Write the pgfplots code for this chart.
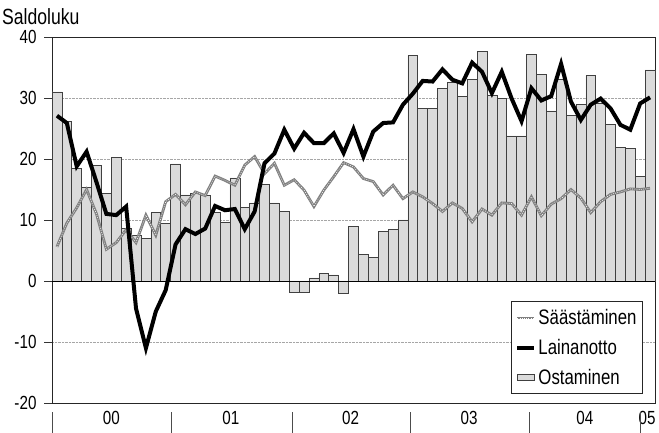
\documentclass[border=0pt]{standalone}
\usepackage{pgfplots}
\pgfplotsset{compat=1.18}
\usepackage{pgfplotstable}
\usepackage{fontspec}
\setmainfont{Liberation Sans}[FakeStretch=0.8]

% x = month index from Jan 2000 (0) to Jan 2005 (60)
\pgfplotstableread{
x  ost   sa    la
0  31.0  5.6   27.1
1  26.1  9.5   25.9
2  18.4  12.0  18.8
3  15.3  15.0  21.2
4  19.0  11.0  16.2
5  14.4  5.2   11.0
6  20.2  6.3   10.8
7  8.6   8.4   12.2
8  7.5   6.3   -4.5
9  7.0   10.8  -11.0
10 11.2  7.5   -5.0
11 9.5   13.0  -1.5
12 19.2  14.2  6.0
13 14.1  12.5  8.5
14 14.3  14.6  7.7
15 14.0  14.0  8.6
16 11.2  17.2  12.3
17 9.6   16.5  11.6
18 16.9  15.7  11.8
19 12.0  19.0  8.5
20 12.8  20.4  11.4
21 15.9  17.6  19.3
22 12.8  19.3  20.9
23 11.4  15.7  24.8
24 -1.9  16.6  21.7
25 -1.9  14.9  24.3
26 0.5   12.2  22.6
27 1.2   14.9  22.6
28 1.0   17.1  24.2
29 -2.0  19.4  21.0
30 9.0   18.7  24.9
31 4.4   16.8  20.4
32 3.9   16.3  24.5
33 8.1   14.1  25.9
34 8.5   15.7  26.0
35 10.0  13.5  28.9
36 37.0  14.6  30.7
37 28.3  13.8  32.8
38 28.3  12.7  32.7
39 31.6  11.4  34.7
40 32.5  12.8  33.0
41 30.3  11.9  32.4
42 33.0  9.7   35.8
43 37.7  11.8  34.3
44 30.5  10.8  30.8
45 30.0  12.8  34.3
46 23.8  12.7  29.9
47 23.8  10.8  26.2
48 37.2  13.8  31.6
49 33.9  10.7  29.6
50 27.9  12.6  30.3
51 33.0  13.5  35.6
52 27.2  15.0  29.4
53 28.9  13.6  26.4
54 33.7  11.2  28.9
55 29.2  13.0  29.9
56 25.7  14.2  28.3
57 21.9  14.6  25.6
58 21.7  15.1  24.8
59 17.1  15.0  29.1
60 34.6  15.2  30.1
}\datatable

\definecolor{barfill}{gray}{0.86}
\definecolor{saline}{gray}{0.5}

\begin{document}
\begin{tikzpicture}
  \useasboundingbox (0,0) rectangle (659pt,433pt);
  \node[anchor=west, inner sep=0pt, font=\fontsize{22}{26}\selectfont] at (2pt,416pt) {Saldoluku};
  \begin{axis}[
    at={(52pt,30pt)}, anchor=south west,
    scale only axis, width=603pt, height=366pt,
    xmin=-0.5, xmax=60.5,
    ymin=-20, ymax=40,
    ytick={-20,-10,0,10,20,30,40},
    yticklabels={-20,-10,0,10,20,30,40},
    yticklabel style={xshift=-4pt},
    xtick={5.5,17.6,29.7,41.7,53.4,59.7},
    xticklabels={00,01,02,03,04,05},
    x tick style={draw=none},
    xticklabel style={yshift=3pt},
    ytick pos=left, tick align=outside,
    major tick length=8pt,
    y tick style={black!80, line width=0.6pt},
    ymajorgrids,
    major grid style={densely dotted, gray!70, line width=0.6pt},
    axis line style={black!85, line width=0.8pt},
    tick label style={font=\fontsize{19}{22}\selectfont},
    clip=false,
    legend cell align=left,
    legend style={at={(0.98,0.024)}, anchor=south east,
      draw=black!85, line width=0.8pt, fill=white,
      font=\fontsize{21}{25}\selectfont,
      row sep=9pt, inner xsep=4pt, inner ysep=6pt},
  ]
    \addplot[ybar, bar width=1, fill=barfill, draw=black!75, line width=0.6pt, forget plot]
      table[x=x, y=ost] {\datatable};
    \draw[black, line width=0.8pt] (axis cs:-0.5,0) -- (axis cs:60.5,0);
    \addplot[saline, line width=2.8pt, mark=none,
      legend image code/.code={
        \draw[saline, line width=2.8pt] (0cm,0cm) -- (0.6cm,0cm);
        \draw[white, line width=0.6pt, dash pattern=on 0.8pt off 1.4pt] (0cm,0cm) -- (0.6cm,0cm);
      }] table[x=x, y=sa] {\datatable};
    \addplot[white, line width=0.6pt, dash pattern=on 0.8pt off 1.4pt, mark=none, forget plot]
      table[x=x, y=sa] {\datatable};
    \addplot[black, line width=4pt, mark=none] table[x=x, y=la] {\datatable};
    \addlegendimage{area legend, fill=barfill, draw=black!75, line width=0.6pt}
    \legend{Säästäminen, Lainanotto, Ostaminen}
    \pgfplotsinvokeforeach{-0.5,11.6,23.8,35.7,47.8,59.0}{
      \draw[black!70, line width=0.6pt] (axis cs:#1,-21.5) -- (axis cs:#1,-25);
    }
  \end{axis}
\end{tikzpicture}
\end{document}
